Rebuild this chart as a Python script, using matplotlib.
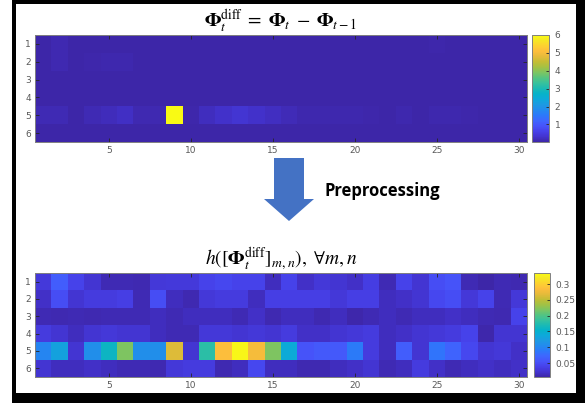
import numpy as np
import matplotlib
matplotlib.use("Agg")
import matplotlib.pyplot as plt
from matplotlib.colors import LinearSegmentedColormap
from matplotlib.patches import Rectangle, Polygon

W, H = 585, 403

# MATLAB-style parula, sampled at evenly spaced stops
PARULA = [
    (0.2422, 0.1504, 0.6603), (0.2647, 0.2030, 0.8155), (0.2773, 0.2560, 0.9180),
    (0.2771, 0.3290, 0.9790), (0.2440, 0.4030, 0.9970), (0.1740, 0.4740, 0.9810),
    (0.1390, 0.5440, 0.9340), (0.1140, 0.6040, 0.8850), (0.0520, 0.6610, 0.8570),
    (0.0230, 0.7000, 0.7900), (0.1070, 0.7280, 0.7040), (0.2150, 0.7580, 0.6150),
    (0.3340, 0.7690, 0.5030), (0.4920, 0.7720, 0.3830), (0.6430, 0.7570, 0.2640),
    (0.7700, 0.7420, 0.2080), (0.8990, 0.7310, 0.2290), (0.9920, 0.7440, 0.2370),
    (0.9910, 0.8200, 0.1900), (0.9650, 0.9040, 0.1460), (0.9769, 0.9839, 0.0805),
]
parula = LinearSegmentedColormap.from_list("parula", PARULA, N=256)

rows = [1, 2, 3, 4, 5, 6]
xticks = [5, 10, 15, 20, 25, 30]

# raw frame difference, rows m = 1..6, columns n = 1..30
diff_r1 = [0.04, 0.10, 0.04, 0.03, 0.03, 0.03, 0.02, 0.03, 0.03, 0.03, 0.03, 0.03, 0.03, 0.03, 0.02,
           0.03, 0.02, 0.02, 0.03, 0.03, 0.03, 0.02, 0.03, 0.02, 0.05, 0.03, 0.02, 0.02, 0.02, 0.02]
diff_r2 = [0.03, 0.10, 0.03, 0.05, 0.08, 0.08, 0.02, 0.04, 0.02, 0.02, 0.03, 0.03, 0.03, 0.02, 0.03,
           0.03, 0.03, 0.03, 0.03, 0.03, 0.03, 0.02, 0.02, 0.02, 0.04, 0.04, 0.03, 0.03, 0.02, 0.03]
diff_r3 = [0.02, 0.02, 0.02, 0.02, 0.02, 0.02, 0.02, 0.02, 0.02, 0.02, 0.02, 0.02, 0.02, 0.02, 0.02,
           0.02, 0.02, 0.02, 0.02, 0.02, 0.02, 0.02, 0.02, 0.02, 0.02, 0.02, 0.02, 0.02, 0.02, 0.03]
diff_r4 = [0.03, 0.03, 0.02, 0.03, 0.03, 0.03, 0.03, 0.02, 0.02, 0.02, 0.03, 0.03, 0.03, 0.03, 0.03,
           0.03, 0.02, 0.02, 0.03, 0.03, 0.03, 0.02, 0.02, 0.03, 0.03, 0.03, 0.04, 0.02, 0.03, 0.03]
diff_r5 = [0.12, 0.12, 0.02, 0.12, 0.18, 0.25, 0.10, 0.10, 6.00, 0.05, 0.20, 0.28, 0.35, 0.30, 0.22,
           0.15, 0.07, 0.07, 0.07, 0.08, 0.05, 0.03, 0.07, 0.04, 0.09, 0.07, 0.05, 0.04, 0.04, 0.03]
diff_r6 = [0.03, 0.02, 0.02, 0.03, 0.02, 0.02, 0.02, 0.02, 0.03, 0.03, 0.03, 0.02, 0.02, 0.04, 0.02,
           0.02, 0.02, 0.02, 0.02, 0.03, 0.03, 0.02, 0.02, 0.03, 0.02, 0.02, 0.02, 0.03, 0.02, 0.03]

# preprocessed values h([Phi_diff]_{m,n})
h_r1 = [0.030, 0.065, 0.040, 0.025, 0.012, 0.012, 0.010, 0.028, 0.030, 0.030, 0.040, 0.045, 0.040, 0.040, 0.015,
        0.040, 0.020, 0.028, 0.025, 0.020, 0.035, 0.012, 0.040, 0.025, 0.050, 0.055, 0.012, 0.006, 0.012, 0.010]
h_r2 = [0.020, 0.050, 0.025, 0.032, 0.032, 0.036, 0.012, 0.050, 0.015, 0.010, 0.028, 0.032, 0.032, 0.015, 0.036,
        0.036, 0.036, 0.036, 0.028, 0.036, 0.036, 0.015, 0.020, 0.025, 0.045, 0.050, 0.028, 0.040, 0.012, 0.028]
h_r3 = [0.012, 0.010, 0.012, 0.010, 0.012, 0.012, 0.012, 0.016, 0.012, 0.016, 0.016, 0.016, 0.012, 0.020, 0.010,
        0.016, 0.016, 0.010, 0.016, 0.008, 0.012, 0.016, 0.012, 0.016, 0.016, 0.020, 0.016, 0.012, 0.010, 0.040]
h_r4 = [0.032, 0.025, 0.016, 0.025, 0.028, 0.025, 0.025, 0.016, 0.012, 0.012, 0.028, 0.028, 0.025, 0.028, 0.025,
        0.032, 0.020, 0.020, 0.025, 0.028, 0.032, 0.016, 0.020, 0.025, 0.028, 0.032, 0.040, 0.008, 0.025, 0.025]
h_r5 = [0.100, 0.130, 0.025, 0.110, 0.160, 0.220, 0.110, 0.110, 0.265, 0.025, 0.180, 0.285, 0.330, 0.280, 0.220,
        0.140, 0.055, 0.060, 0.060, 0.090, 0.032, 0.016, 0.065, 0.025, 0.085, 0.070, 0.045, 0.025, 0.028, 0.020]
h_r6 = [0.025, 0.016, 0.016, 0.020, 0.016, 0.012, 0.012, 0.010, 0.028, 0.032, 0.032, 0.010, 0.016, 0.045, 0.016,
        0.016, 0.010, 0.010, 0.016, 0.020, 0.025, 0.012, 0.016, 0.032, 0.020, 0.012, 0.016, 0.020, 0.016, 0.020]

diff_ticks = [1, 2, 3, 4, 5, 6]
h_ticks = [0.05, 0.1, 0.15, 0.2, 0.25, 0.3]
h_ticklabels = ["0.05", "0.1", "0.15", "0.2", "0.25", "0.3"]

plt.rcParams["mathtext.fontset"] = "stix"
GRAY = (0.15, 0.15, 0.15)


def px(x0, y0, x1, y1):
    """pixel box (top-left origin) -> figure fraction rect"""
    return [x0 / W, 1 - y1 / H, (x1 - x0) / W, (y1 - y0) / H]


def heatmap(fig, rect, cbar_rect, data, vmin, vmax, cticks, cticklabels, title):
    ax = fig.add_axes(px(*rect))
    ncols = data.shape[1]
    im = ax.imshow(data, cmap=parula, vmin=vmin, vmax=vmax, aspect="auto",
                   interpolation="nearest",
                   extent=(0.5, ncols + 0.5, len(rows) + 0.5, 0.5))
    ax.set_xticks(xticks)
    ax.set_yticks(rows)
    ax.tick_params(direction="in", length=3, width=0.6, colors=GRAY, labelsize=6.5,
                   top=True, right=True, labelcolor=(0.35, 0.35, 0.35), pad=3)
    for s in ax.spines.values():
        s.set_color((0.5, 0.5, 0.5))
        s.set_linewidth(0.7)
    ax.set_title(title, fontsize=14, pad=6)

    cax = fig.add_axes(px(*cbar_rect))
    cb = fig.colorbar(im, cax=cax)
    cb.set_ticks(cticks)
    cb.set_ticklabels(cticklabels)
    cax.tick_params(direction="in", length=2.5, width=0.6, colors=GRAY, labelsize=6.5,
                    labelcolor=(0.35, 0.35, 0.35), pad=4)
    cb.outline.set_edgecolor((0.5, 0.5, 0.5))
    cb.outline.set_linewidth(0.7)
    return ax


fig = plt.figure(figsize=(W / 100, H / 100), dpi=100)

# black frame around the whole panel
fig.patches.append(Rectangle((12 / W, 0), 1 - 12 / W, 1, transform=fig.transFigure,
                             facecolor="black", edgecolor="none", zorder=-2))
fig.patches.append(Rectangle((16 / W, 10 / H), (576 - 16) / W, (399 - 10) / H,
                             transform=fig.transFigure, facecolor="white",
                             edgecolor="none", zorder=-1))

diff = np.array([diff_r1, diff_r2, diff_r3, diff_r4, diff_r5, diff_r6])
h_vals = np.array([h_r1, h_r2, h_r3, h_r4, h_r5, h_r6])

heatmap(fig, (35, 35, 527, 142), (532, 35, 549, 142), diff, 0.02, 6.0,
        diff_ticks, [str(t) for t in diff_ticks],
        r"$\mathbf{\Phi}_t^{\mathrm{diff}} \;=\; \mathbf{\Phi}_t \;-\; \mathbf{\Phi}_{t-1}$")
heatmap(fig, (35, 273, 527, 377), (534, 273, 550, 377), h_vals, 0.006, 0.335,
        h_ticks, h_ticklabels,
        r"$h([\mathbf{\Phi}_t^{\mathrm{diff}}]_{m,n}),\ \forall m,n$")

# block arrow between the two panels
cx, shaft_w, head_w = 289, 30, 50
y_top, y_head, y_tip = 158, 199, 221
arrow_px = [(cx - shaft_w / 2, y_top), (cx + shaft_w / 2, y_top), (cx + shaft_w / 2, y_head),
            (cx + head_w / 2, y_head), (cx, y_tip), (cx - head_w / 2, y_head),
            (cx - shaft_w / 2, y_head)]
fig.patches.append(Polygon([(x / W, 1 - y / H) for x, y in arrow_px], closed=True,
                           transform=fig.transFigure, facecolor="#4472C4", edgecolor="none"))
fig.text(324 / W, 1 - 191 / H, "Preprocessing", fontsize=12, fontweight="bold",
         family="Open Sans", ha="left", va="center")

fig.savefig("out.png", dpi=100)
